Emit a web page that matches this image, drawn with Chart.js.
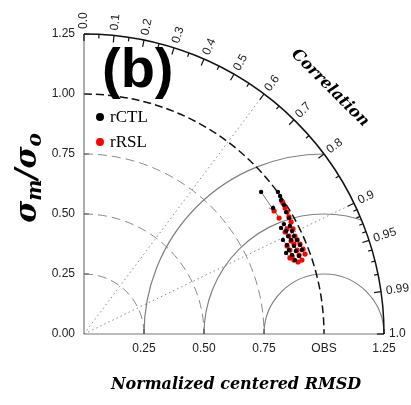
<!DOCTYPE html>
<html>
<head>
<meta charset="utf-8">
<script src="https://cdn.jsdelivr.net/npm/chart.js@4.4.1/dist/chart.umd.min.js"></script>
<style>
  body { margin: 0; background: #fff; }
  canvas { display: block; }
</style>
</head>
<body>
<canvas id="taylor" width="411" height="405" style="width:411px;height:405px"></canvas>
<script>
// Taylor diagram: x = std*corr, y = std*sin(acos(corr)), normalized by obs
const seriesNames = ['rCTL', 'rRSL'];

// rCTL runs
const ctlX = [0.738, 0.808, 0.817, 0.821, 0.833, 0.842, 0.854, 0.833, 0.858, 0.842, 0.867, 0.850, 0.875, 0.829,
              0.863, 0.888, 0.846, 0.875, 0.900, 0.854, 0.883, 0.908, 0.867, 0.896, 0.842, 0.879, 0.821, 0.788];
const ctlY = [0.592, 0.592, 0.575, 0.558, 0.538, 0.508, 0.483, 0.458, 0.450, 0.429, 0.429, 0.408, 0.408, 0.392,
              0.392, 0.392, 0.371, 0.367, 0.371, 0.350, 0.346, 0.350, 0.329, 0.325, 0.338, 0.308, 0.442, 0.525];
// rRSL runs, same order as rCTL
const rslX = [0.792, 0.825, 0.829, 0.838, 0.846, 0.854, 0.863, 0.846, 0.871, 0.854, 0.879, 0.863, 0.888, 0.846,
              0.875, 0.900, 0.858, 0.888, 0.913, 0.867, 0.896, 0.921, 0.875, 0.908, 0.858, 0.892, 0.838, 0.813];
const rslY = [0.513, 0.554, 0.546, 0.525, 0.508, 0.488, 0.467, 0.438, 0.438, 0.408, 0.408, 0.388, 0.392, 0.367,
              0.375, 0.375, 0.350, 0.350, 0.354, 0.325, 0.329, 0.333, 0.308, 0.308, 0.317, 0.300, 0.425, 0.483];

// axis / grid tick values
const stdTicks = [0, 0.25, 0.5, 0.75, 1.0, 1.25];
const stdLabels = ['0.00', '0.25', '0.50', '0.75', '1.00', '1.25'];
const xTickLabels = ['0.25', '0.50', '0.75', 'OBS', '1.25'];
const corrLabels = ['0.0', '0.1', '0.2', '0.3', '0.4', '0.5', '0.6', '0.7', '0.8', '0.9', '0.95', '0.99', '1.0'];
const corrMinor = [0.05, 0.15, 0.25, 0.35, 0.45, 0.55, 0.65, 0.75, 0.85, 0.91, 0.92, 0.93, 0.94, 0.96, 0.97, 0.98];
const stdArcs = [0.25, 0.5, 0.75];
const rmsArcs = [0.25, 0.5, 0.75];
const corrLines = [0.6, 0.9];
const maxStd = 1.25;

function toPts(xs, ys) {
    return xs.map((v, i) => ({ x: v, y: ys[i] }));
}

const taylorPlugin = {
    id: 'taylor',
    beforeDatasetsDraw(chart) {
        const { ctx, scales: { x, y } } = chart;
        const ox = x.getPixelForValue(0), oy = y.getPixelForValue(0);
        const u = x.getPixelForValue(1) - ox;
        const R = maxStd * u;
        ctx.save();

        // std dev arcs (gray dashed)
        ctx.strokeStyle = '#8a8a8a';
        ctx.lineWidth = 1;
        ctx.setLineDash([9, 5]);
        stdArcs.forEach(r => {
            ctx.beginPath();
            ctx.arc(ox, oy, r * u, -Math.PI / 2, 0);
            ctx.stroke();
        });

        // clip to the quarter circle
        ctx.save();
        ctx.beginPath();
        ctx.moveTo(ox, oy);
        ctx.arc(ox, oy, R, -Math.PI / 2, 0);
        ctx.closePath();
        ctx.clip();

        // centered RMSD arcs around OBS
        ctx.setLineDash([]);
        ctx.strokeStyle = '#808080';
        ctx.lineWidth = 1.2;
        rmsArcs.forEach(r => {
            ctx.beginPath();
            ctx.arc(ox + u, oy, r * u, Math.PI, 2 * Math.PI);
            ctx.stroke();
        });

        // correlation lines (dotted)
        ctx.strokeStyle = '#8a8a8a';
        ctx.lineWidth = 1;
        ctx.setLineDash([1.5, 3]);
        corrLines.forEach(c => {
            const a = Math.acos(c);
            ctx.beginPath();
            ctx.moveTo(ox, oy);
            ctx.lineTo(ox + R * Math.cos(a), oy - R * Math.sin(a));
            ctx.stroke();
        });
        ctx.restore();

        // reference std arc (black dashed)
        ctx.strokeStyle = '#111';
        ctx.lineWidth = 1.5;
        ctx.setLineDash([8, 4]);
        ctx.beginPath();
        ctx.arc(ox, oy, u, -Math.PI / 2, 0);
        ctx.stroke();
        ctx.setLineDash([]);

        // axes
        ctx.strokeStyle = '#777';
        ctx.lineWidth = 1.2;
        ctx.beginPath();
        ctx.moveTo(ox, oy - R);
        ctx.lineTo(ox, oy);
        ctx.lineTo(ox + R, oy);
        ctx.stroke();
        ctx.strokeStyle = '#555';
        stdTicks.forEach(v => {
            if (v === 0) return;
            ctx.beginPath();
            ctx.moveTo(ox, y.getPixelForValue(v));
            ctx.lineTo(ox + 5, y.getPixelForValue(v));
            ctx.moveTo(x.getPixelForValue(v), oy);
            ctx.lineTo(x.getPixelForValue(v), oy - 5);
            ctx.stroke();
        });

        // outer arc + correlation ticks
        ctx.strokeStyle = '#111';
        ctx.lineWidth = 1.5;
        ctx.beginPath();
        ctx.arc(ox, oy, R, -Math.PI / 2, 0);
        ctx.stroke();
        ctx.lineWidth = 1.2;
        const tick = (c, len) => {
            const a = Math.acos(c);
            ctx.beginPath();
            ctx.moveTo(ox + R * Math.cos(a), oy - R * Math.sin(a));
            ctx.lineTo(ox + (R - len) * Math.cos(a), oy - (R - len) * Math.sin(a));
            ctx.stroke();
        };
        corrLabels.forEach(s => tick(parseFloat(s), 7));
        corrMinor.forEach(c => tick(c, 4));

        // labels
        ctx.fillStyle = '#222';
        ctx.font = '12px "Liberation Sans", Arial, sans-serif';
        ctx.textBaseline = 'middle';
        ctx.textAlign = 'right';
        stdTicks.forEach((v, i) => ctx.fillText(stdLabels[i], ox - 9, y.getPixelForValue(v)));
        ctx.textAlign = 'center';
        stdTicks.slice(1).forEach((v, i) => ctx.fillText(xTickLabels[i], x.getPixelForValue(v), oy + 15));
        ctx.textAlign = 'left';
        corrLabels.forEach(s => {
            const a = Math.acos(parseFloat(s));
            ctx.save();
            ctx.translate(ox + (R + 5) * Math.cos(a), oy - (R + 5) * Math.sin(a));
            ctx.rotate(-a);
            ctx.fillText(s, 0, 0);
            ctx.restore();
        });

        // gray links from rCTL to rRSL
        ctx.strokeStyle = '#7a7a7a';
        ctx.lineWidth = 1;
        ctlX.forEach((v, i) => {
            const x0 = x.getPixelForValue(v), y0 = y.getPixelForValue(ctlY[i]);
            const x1 = x.getPixelForValue(rslX[i]), y1 = y.getPixelForValue(rslY[i]);
            ctx.beginPath();
            ctx.moveTo(x0, y0);
            ctx.lineTo(x1, y1);
            ctx.stroke();
            const len = Math.hypot(x1 - x0, y1 - y0);
            if (len > 12) {
                const ang = Math.atan2(y1 - y0, x1 - x0);
                ctx.beginPath();
                ctx.moveTo(x1 - 6 * Math.cos(ang - 0.45), y1 - 6 * Math.sin(ang - 0.45));
                ctx.lineTo(x1, y1);
                ctx.lineTo(x1 - 6 * Math.cos(ang + 0.45), y1 - 6 * Math.sin(ang + 0.45));
                ctx.stroke();
            }
        });
        ctx.restore();
    },
    afterDraw(chart) {
        const { ctx } = chart;
        ctx.save();
        ctx.fillStyle = '#000';

        // panel tag
        ctx.font = 'bold 56px "Liberation Sans", Arial, sans-serif';
        ctx.textAlign = 'left';
        ctx.textBaseline = 'alphabetic';
        ctx.fillText('(b)', 102, 87);

        // legend
        const colors = ['#000', '#ff0000'];
        ctx.font = '17px "Liberation Serif", "Times New Roman", serif';
        seriesNames.forEach((name, i) => {
            const cy = 117 + i * 25;
            ctx.fillStyle = colors[i];
            ctx.beginPath();
            ctx.arc(100, cy, 4, 0, 2 * Math.PI);
            ctx.fill();
            ctx.fillStyle = '#000';
            ctx.fillText(name, 110, cy + 5);
        });

        // x title
        ctx.font = 'bold italic 16px "DejaVu Serif", serif';
        ctx.textAlign = 'center';
        ctx.fillText('Normalized centered RMSD', 236, 389);

        // correlation title
        ctx.save();
        ctx.translate(330, 88);
        ctx.rotate(Math.PI / 4);
        ctx.textBaseline = 'middle';
        ctx.fillText('Correlation', 0, 0);
        ctx.restore();

        // y title  sigma_m / sigma_o
        ctx.save();
        ctx.translate(36, 178);
        ctx.rotate(-Math.PI / 2);
        ctx.textAlign = 'left';
        const big = 'bold italic 30px "DejaVu Serif", serif';
        const small = 'bold italic 20px "DejaVu Serif", serif';
        const parts = [['σ', big, 0], ['m', small, 5], ['/', big, 0], ['σ', big, 0], ['o', small, 5]];
        let w = 0;
        parts.forEach(p => { ctx.font = p[1]; w += ctx.measureText(p[0]).width; });
        let cx = -w / 2;
        parts.forEach(p => {
            ctx.font = p[1];
            ctx.fillText(p[0], cx, p[2]);
            cx += ctx.measureText(p[0]).width;
        });
        ctx.restore();
        ctx.restore();
    }
};

new Chart(document.getElementById('taylor'), {
    type: 'scatter',
    data: {
        datasets: [
            { label: seriesNames[0], data: toPts(ctlX, ctlY), backgroundColor: '#000', borderColor: '#000',
              pointRadius: 2.2, borderWidth: 0 },
            { label: seriesNames[1], data: toPts(rslX, rslY), backgroundColor: '#ff0000', borderColor: '#ff0000',
              pointRadius: 2.6, borderWidth: 0 }
        ]
    },
    options: {
        responsive: false,
        animation: false,
        layout: { padding: { left: 84, right: 27, top: 34, bottom: 71 } },
        plugins: { legend: { display: false }, tooltip: { enabled: false } },
        scales: {
            x: { type: 'linear', min: 0, max: maxStd, display: false },
            y: { type: 'linear', min: 0, max: maxStd, display: false }
        }
    },
    plugins: [taylorPlugin]
});
</script>
</body>
</html>
